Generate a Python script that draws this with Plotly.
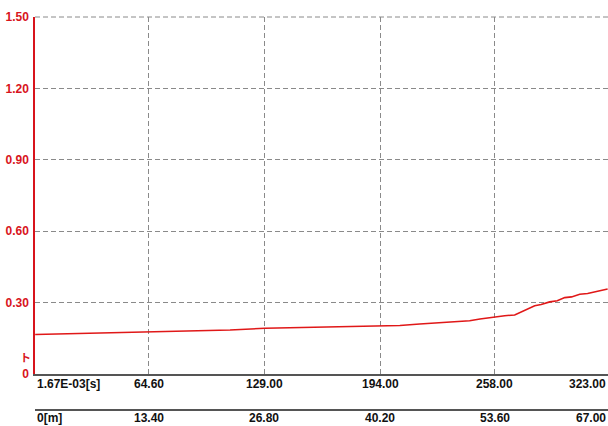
import plotly.graph_objects as go

# Measured trace: elapsed time [s] vs. signal level
time_s = [1.0, 20.0, 40.0, 64.6, 90.0, 110.0, 129.5, 150.0, 170.0, 193.7,
          205.0, 216.1, 228.0, 238.5, 244.0, 249.8, 254.0, 257.6, 263.6,
          269.2, 274.8, 280.4, 284.0, 288.8, 293.0, 297.2, 301.0, 305.6,
          310.0, 314.0, 318.0, 321.2]
level = [0.166, 0.169, 0.172, 0.176, 0.181, 0.185, 0.192, 0.195, 0.198, 0.201,
         0.204, 0.210, 0.216, 0.219, 0.224, 0.231, 0.236, 0.240, 0.245,
         0.248, 0.269, 0.287, 0.292, 0.303, 0.308, 0.321, 0.324, 0.335,
         0.338, 0.344, 0.350, 0.357]

# Axis labelling
x_range = [0.9, 321.4]
y_range = [0.0, 1.5]
time_ticks = [0.9, 64.6, 129.0, 194.0, 258.0, 323.0]
time_labels = ["1.67E-03[s]", "64.60", "129.00", "194.00", "258.00", "323.00"]
dist_labels = ["0[m]", "13.40", "26.80", "40.20", "53.60", "67.00"]
y_ticks = [0.0, 0.3, 0.6, 0.9, 1.2, 1.5]
y_labels = ["0", "0.30", "0.60", "0.90", "1.20", "1.50"]

FONT = "Liberation Sans Narrow, Liberation Sans, Arial, sans-serif"
RED = "#d8141c"
GRID = "#8a8a8a"
AXIS = "#555555"
DASH = "5px,3px"

fig = go.Figure()
fig.add_trace(go.Scatter(x=time_s, y=level, mode="lines",
                         line=dict(color="#e01818", width=1.6),
                         hoverinfo="skip", showlegend=False))

fig.update_layout(
    width=608, height=426,
    margin=dict(l=35, r=0, t=17, b=52),
    paper_bgcolor="white", plot_bgcolor="white",
    showlegend=False,
    xaxis=dict(range=x_range, tickvals=time_ticks[1:], showticklabels=False,
               ticks="", showgrid=True, gridcolor=GRID, griddash=DASH,
               gridwidth=1, zeroline=False, showline=True, linecolor=AXIS,
               linewidth=2),
    yaxis=dict(range=y_range, tickvals=y_ticks, ticktext=y_labels,
               tickfont=dict(family=FONT, size=12, color=RED, weight="bold"),
               ticks="", ticklabelstandoff=2, showgrid=True, gridcolor=GRID,
               griddash=DASH, gridwidth=1, zeroline=False,
               showline=True, linecolor=RED, linewidth=1.5),
)

# Dashed frame line along the top of the plot
fig.add_shape(type="line", xref="paper", yref="paper", x0=0, x1=1,
              y0=1, y1=1, line=dict(color=GRID, width=1, dash=DASH),
              layer="below")

# Time and distance tick labels under the plot
row1_y = -(384 - 374) / 357
row2_y = -(418 - 374) / 357
line2_y = -(410 - 374) / 357
n = len(time_ticks)
for i, (xv, t_lab, d_lab) in enumerate(zip(time_ticks, time_labels, dist_labels)):
    if i == n - 1:
        pos = dict(x=1.0, xref="paper", xanchor="right")
    elif i == 0:
        pos = dict(x=xv, xref="x", xanchor="left")
    else:
        pos = dict(x=xv, xref="x", xanchor="center")
    for lab, yy in ((t_lab, row1_y), (d_lab, row2_y)):
        fig.add_annotation(y=yy, yref="paper", text=lab, showarrow=False,
                           yanchor="middle", **pos,
                           font=dict(family=FONT, size=12, color="#111111",
                                     weight="bold"))

# Distance scale baseline
fig.add_shape(type="line", xref="paper", yref="paper", x0=0, x1=1,
              y0=line2_y, y1=line2_y, line=dict(color=AXIS, width=2))

# Zero marker beside the level axis
fig.add_annotation(x=0, y=0.07, xref="paper", yref="y", text="ト",
                   showarrow=False, xanchor="right", xshift=-2,
                   font=dict(family="Noto Sans CJK JP", size=11, color=RED,
                             weight="bold"))

fig.write_html("out.html")
